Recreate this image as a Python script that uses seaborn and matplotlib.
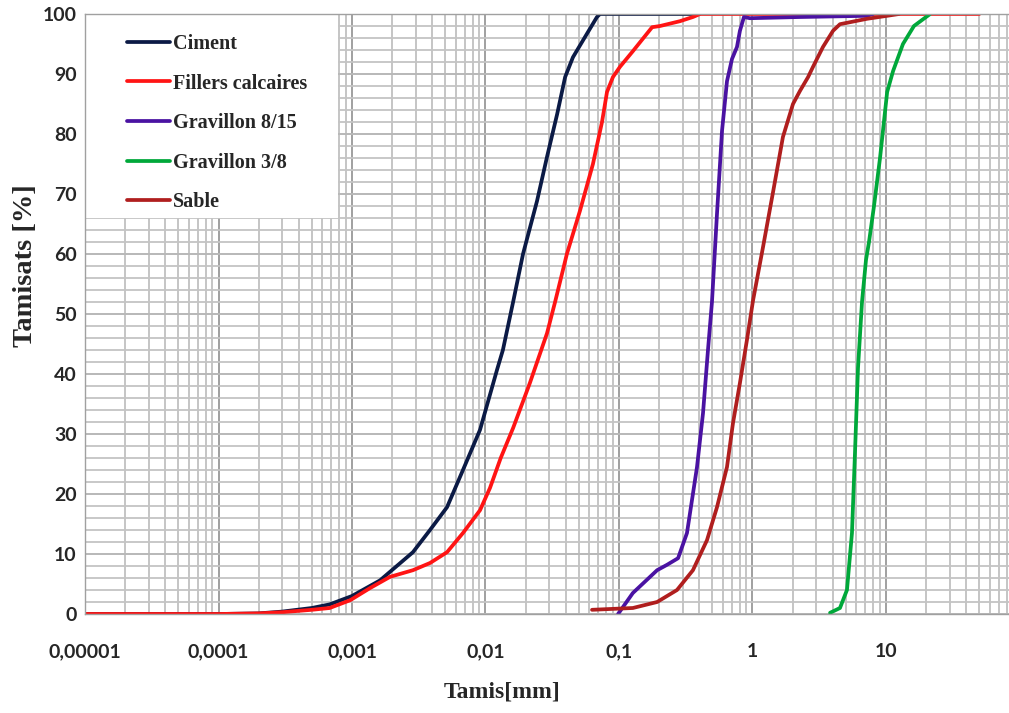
import numpy as np
import pandas as pd
import matplotlib
matplotlib.use("Agg")
import matplotlib.pyplot as plt
import seaborn as sns
from matplotlib.ticker import MultipleLocator, LogLocator, NullFormatter
from matplotlib.patches import Rectangle
from matplotlib.font_manager import FontProperties

# ---------------- data ----------------
series = ["Ciment", "Fillers calcaires", "Gravillon 8/15", "Gravillon 3/8", "Sable"]
colors = ["#0b1a45", "#ff1414", "#4a12a2", "#00a83a", "#b01e1e"]

ciment_x = [1e-5, 1e-4, 0.0002, 0.0003, 0.0005, 0.00068, 0.001, 0.00162, 0.00286, 0.00384,
            0.00515, 0.00678, 0.0091, 0.0122, 0.0135, 0.0161, 0.0191, 0.0243, 0.0289, 0.0344,
            0.0395, 0.0452, 0.0575, 0.0684, 0.072, 0.4]
ciment_y = [0, 0, 0.1, 0.4, 1.0, 1.6, 3.0, 5.6, 10.3, 14.0,
            17.8, 24.0, 30.7, 40.7, 44.0, 52.0, 60.0, 68.8, 76.2, 83.3,
            89.5, 92.8, 96.7, 99.5, 100, 100]

fillers_x = [1e-5, 1e-4, 0.0002, 0.0003, 0.0005, 0.00068, 0.00097, 0.00136, 0.00193, 0.00286,
             0.00384, 0.00515, 0.00678, 0.0091, 0.0108, 0.013, 0.0161, 0.0215, 0.0289, 0.0332,
             0.0407, 0.051, 0.0638, 0.0746, 0.0813, 0.0901, 0.1017, 0.127, 0.177, 0.203,
             0.286, 0.358, 0.404, 50]
fillers_y = [0, 0, 0.1, 0.3, 0.7, 1.0, 2.3, 4.3, 6.2, 7.3,
             8.5, 10.3, 13.5, 17.3, 21.0, 26.0, 31.0, 38.5, 46.8, 52.0,
             60.0, 67.2, 75.0, 82.0, 87.0, 89.5, 91.2, 93.8, 97.8, 98.0,
             98.8, 99.5, 100, 100]

grav815_x = [0.0984, 0.127, 0.193, 0.229, 0.277, 0.323, 0.384, 0.426, 0.464, 0.497,
             0.542, 0.591, 0.644, 0.702, 0.765, 0.805, 0.863, 0.956, 2.27, 7.2, 8.0]
grav815_y = [0, 3.5, 7.3, 8.2, 9.3, 13.5, 24.5, 33.5, 44.0, 52.0,
             66.7, 80.5, 88.8, 92.5, 94.5, 97.2, 99.5, 99.3, 99.5, 99.7, 100]

grav38_x = [3.81, 4.52, 5.10, 5.56, 5.86, 6.17, 6.61, 7.08, 7.46, 8.13,
            9.02, 10.2, 11.3, 13.4, 16.2, 21.4]
grav38_y = [0.2, 1.0, 4.0, 13.5, 27.0, 41.0, 52.0, 59.0, 62.0, 68.0,
            76.0, 87.0, 90.5, 95.0, 98.0, 100]

sable_x = [0.0628, 0.127, 0.193, 0.272, 0.358, 0.456, 0.542, 0.644, 0.714, 0.805,
           0.909, 1.01, 1.20, 1.43, 1.69, 2.01, 2.27, 2.61, 2.84, 3.37,
           4.01, 4.52, 7.2, 10.2, 12.5]
sable_y = [0.7, 1.0, 2.0, 4.0, 7.3, 12.3, 17.8, 24.5, 31.8, 38.5,
           45.7, 52.3, 61.2, 70.5, 79.5, 85.0, 87.2, 89.5, 91.2, 94.5,
           97.2, 98.3, 99.2, 99.7, 100]

x_tick_values = [1e-5, 1e-4, 1e-3, 1e-2, 1e-1, 1, 10]
x_tick_labels = ["0,00001", "0,0001", "0,001", "0,01", "0,1", "1", "10"]
y_tick_values = list(range(0, 101, 10))

# ---------------- build frame ----------------
xs = [ciment_x, fillers_x, grav815_x, grav38_x, sable_x]
ys = [ciment_y, fillers_y, grav815_y, grav38_y, sable_y]
df = pd.concat([pd.DataFrame({"Tamis": x, "Tamisats": y, "Serie": s})
                for s, x, y in zip(series, xs, ys)], ignore_index=True)

# ---------------- plot ----------------
sns.set_style("white")
plt.rcParams['font.family'] = ['Liberation Serif', 'DejaVu Serif']

fig = plt.figure(figsize=(10.09, 7.13), dpi=100)
ax = fig.add_axes([85 / 1009, 99 / 713, 934.5 / 1009, 600 / 713])
ax.set_xscale("log")

sns.lineplot(data=df, x="Tamis", y="Tamisats", hue="Serie", hue_order=series,
             palette=dict(zip(series, colors)), sort=False, estimator=None,
             lw=2.7, ax=ax)

ax.set_xlim(1e-5, 100)
ax.set_ylim(0, 100)

ax.xaxis.set_minor_locator(LogLocator(base=10, subs=np.arange(2, 10), numticks=100))
ax.xaxis.set_minor_formatter(NullFormatter())
ax.set_xticks(x_tick_values)
ax.set_xticklabels(x_tick_labels)
ax.set_yticks(y_tick_values)
ax.yaxis.set_minor_locator(MultipleLocator(2))

ax.set_axisbelow(True)
ax.grid(which="major", axis="x", color="#a0a0a0", lw=1.4)
ax.grid(which="minor", axis="x", color="#c0c0c0", lw=1.3)
ax.grid(which="major", axis="y", color="#b8b8b8", lw=1.4)
ax.grid(which="minor", axis="y", color="#c4c4c4", lw=1.3)

ax.tick_params(axis="both", which="both", direction="in", length=0)
ax.tick_params(axis="x", pad=21)
ax.tick_params(axis="y", pad=6)
for lab in ax.get_xticklabels() + ax.get_yticklabels():
    lab.set_fontfamily("Lato")
    lab.set_fontweight("bold")
    lab.set_fontsize(14)

for sp in ax.spines.values():
    sp.set_color("#a0a0a0")
    sp.set_linewidth(1.0)

ax.set_xlabel("Tamis[mm]", fontsize=17, fontweight="bold", fontfamily="Liberation Serif")
ax.set_ylabel("Tamisats [%]", fontsize=20.5, fontweight="bold", fontfamily="Liberation Serif")
ax.xaxis.set_label_coords((502 - 85) / 934.5, -(692 - 614) / 600)
ax.xaxis.label.set_va("center")
ax.yaxis.set_label_coords(-(85 - 25) / 934.5, (614 - 266) / 600)
ax.yaxis.label.set_va("center")

# white legend area
ax.add_patch(Rectangle((0, (614 - 218) / 600), (338 - 85) / 934.5, (218 - 14) / 600,
                       transform=ax.transAxes, facecolor="white", edgecolor="none",
                       zorder=1.5))
handles, labels = ax.get_legend_handles_labels()
ax.legend(handles, labels, loc="upper left",
          bbox_to_anchor=((127 - 85) / 934.5, (614 - 34) / 600),
          frameon=False, borderpad=0, borderaxespad=0,
          prop=FontProperties(family="Liberation Serif", weight="bold", size=14.5),
          handlelength=2.15, handletextpad=0.12, labelspacing=0.97)

fig.savefig("out.png", dpi=100)
